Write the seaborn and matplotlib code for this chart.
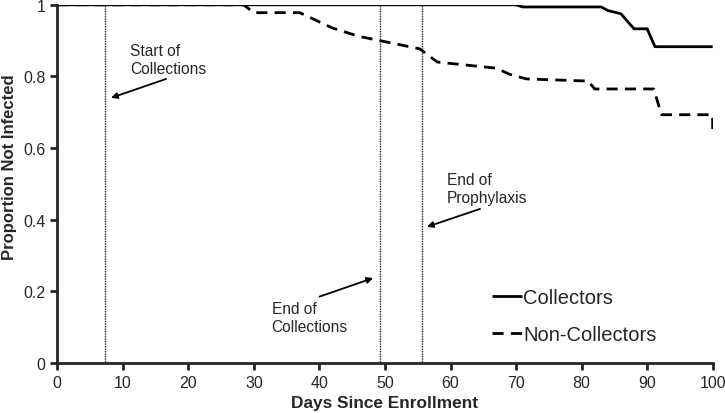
import matplotlib
matplotlib.use("Agg")
import matplotlib.pyplot as plt
import pandas as pd
import seaborn as sns

# Kaplan-Meier style curves
collectors_days = [0, 70, 71, 83, 84, 86, 88, 90, 91.2, 100]
collectors_prop = [1.0, 1.0, 0.994, 0.994, 0.984, 0.975, 0.933, 0.933, 0.883, 0.883]

noncollectors_days = [0, 28.4, 30, 37, 42, 46, 49.2, 55.3, 58, 67, 69, 71.6, 81, 82, 91, 92.2, 100, 100]
noncollectors_prop = [1.0, 1.0, 0.978, 0.978, 0.935, 0.912, 0.90, 0.877, 0.84, 0.823, 0.806, 0.793,
                      0.787, 0.765, 0.765, 0.693, 0.693, 0.65]

event_days = [7.3, 49.3, 55.6]
event_labels = ["Start of\nCollections", "End of\nCollections", "End of\nProphylaxis"]
label_xy = [(11.1, 0.847), (32.7, 0.128), (59.4, 0.488)]
arrow_from = [(16.6, 0.793), (40.0, 0.185), (64.5, 0.43)]
arrow_to = [(8.2, 0.74), (48.2, 0.237), (56.4, 0.38)]

df = pd.concat([
    pd.DataFrame({"day": collectors_days, "prop": collectors_prop, "group": "Collectors"}),
    pd.DataFrame({"day": noncollectors_days, "prop": noncollectors_prop, "group": "Non-Collectors"}),
])

sns.set_style("ticks")
plt.rcParams["font.family"] = ["Liberation Sans", "DejaVu Sans"]

fig = plt.figure(figsize=(7.25, 4.14), dpi=100)
ax = fig.add_axes([0.079, 0.121, 0.904, 0.865])

sns.lineplot(data=df, x="day", y="prop", hue="group", style="group",
             palette=["black", "black"], dashes=[(1, 0), (4, 2.6)],
             linewidth=2.0, sort=False, estimator=None, ax=ax, legend=True)

for d in event_days:
    ax.axvline(d, color="black", linestyle=(0, (0.6, 0.6)), linewidth=1.0, zorder=1)

for txt, xy, a0, a1 in zip(event_labels, label_xy, arrow_from, arrow_to):
    ax.text(xy[0], xy[1], txt, fontsize=11.2, ha="left", va="center", linespacing=1.25)
    ax.annotate("", xy=a1, xytext=a0,
                arrowprops=dict(arrowstyle="-|>", color="black", lw=1.3,
                                mutation_scale=9, shrinkA=0, shrinkB=0))

ax.set_xlim(0, 100)
ax.set_ylim(0, 1)
ax.set_xticks(range(0, 101, 10))
ax.set_yticks([0, 0.2, 0.4, 0.6, 0.8, 1])
ax.set_yticklabels(["0", "0.2", "0.4", "0.6", "0.8", "1"])
ax.tick_params(axis="both", labelsize=11.5, width=2, length=5, direction="out")
ax.set_xlabel("Days Since Enrollment", fontsize=12.4, fontweight="bold")
ax.set_ylabel("Proportion Not Infected", fontsize=12, fontweight="bold")
ax.yaxis.set_label_coords(-0.062, 0.549)
sns.despine(ax=ax)
for s in ["left", "bottom"]:
    ax.spines[s].set_linewidth(2)
ax.spines["bottom"].set_zorder(5)

handles, labels = ax.get_legend_handles_labels()
ax.legend(handles, labels, frameon=False, fontsize=14.5, handlelength=1.5,
          handletextpad=0.05, labelspacing=0.85, loc="center left",
          bbox_to_anchor=(0.648, 0.131), borderpad=0)

fig.savefig("out.png", dpi=100)
